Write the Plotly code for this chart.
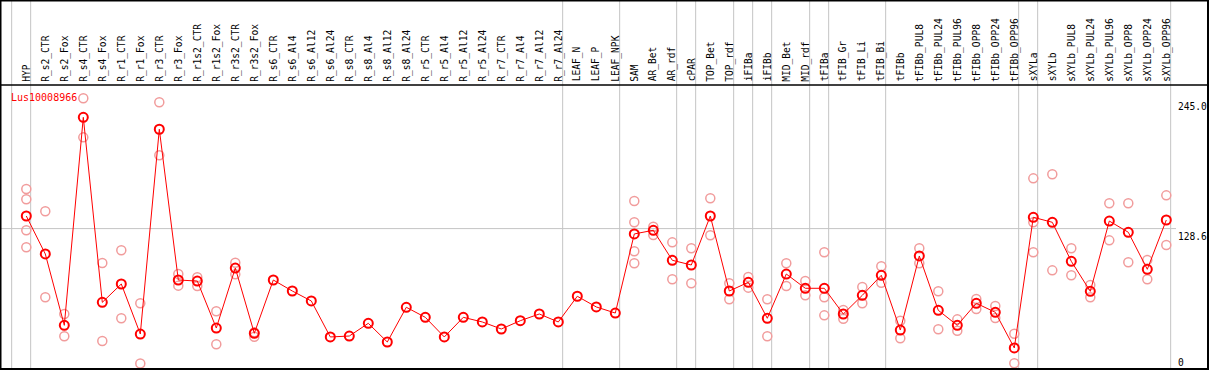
import plotly.graph_objects as go

title = "Lus10008966"

labels = ["HYP", "R_s2_CTR", "R_s2_Fox", "R_s4_CTR", "R_s4_Fox", "R_r1_CTR", "R_r1_Fox",
          "R_r3_CTR", "R_r3_Fox", "R_r1s2_CTR", "R_r1s2_Fox", "R_r3s2_CTR", "R_r3s2_Fox",
          "R_s6_CTR", "R_s6_Al4", "R_s6_Al12", "R_s6_Al24", "R_s8_CTR", "R_s8_Al4",
          "R_s8_Al12", "R_s8_Al24", "R_r5_CTR", "R_r5_Al4", "R_r5_Al12", "R_r5_Al24",
          "R_r7_CTR", "R_r7_Al4", "R_r7_Al12", "R_r7_Al24", "LEAF_N", "LEAF_P", "LEAF_NPK",
          "SAM", "AR_Bet", "AR_rdf", "cPAR", "TOP_Bet", "TOP_rdf", "iFIBa", "iFIBb",
          "MID_Bet", "MID_rdf", "tFIBa", "tFIB_Gr", "tFIB_Li", "tFIB_Bi", "tFIBb",
          "tFIBb_PUL8", "tFIBb_PUL24", "tFIBb_PUL96", "tFIBb_OPP8", "tFIBb_OPP24", "tFIBb_OPP96",
          "sXYLa", "sXYLb", "sXYLb_PUL8", "sXYLb_PUL24", "sXYLb_PUL96", "sXYLb_OPP8",
          "sXYLb_OPP24", "sXYLb_OPP96"]

means = [140.6, 104.4, 36.4, 234.7, 58.3, 75.8, 28.1, 223.3, 79.6, 78.6, 33.8, 91.0, 28.8,
         79.6, 69.1, 59.6, 25.3, 26.2, 38.3, 20.5, 53.6, 44.0, 25.3, 44.0, 39.6,
         32.9, 40.8, 47.2, 39.6, 64.1, 53.9, 48.1,
         123.5, 127.0, 98.4, 93.9, 140.6, 69.1, 77.4, 43.1, 85.3, 71.7, 71.7, 47.2, 65.0, 84.1,
         31.9, 102.5, 50.7, 36.4, 57.4, 48.8, 14.8,
         139.4, 134.6, 97.4, 68.8, 135.8, 125.1, 89.8, 136.8]

replicates = [
    [166.3, 156.5, 127.0, 110.8], [145.1, 63.1], [47.2, 25.9], [252.8, 215.6], [95.8, 21.4],
    [107.9, 43.1], [57.4, 0.0], [249.0, 198.5], [85.3, 74.2], [82.2, 73.9], [49.8, 18.3],
    [96.1, 85.0], [29.7, 25.5],
    [], [], [], [], [], [], [], [], [], [], [], [], [], [], [], [], [], [], [],
    [154.9, 134.6, 107.0, 95.5], [130.4, 122.5], [115.5, 80.3], [109.8, 76.5], [157.5, 122.2],
    [76.5, 61.2], [82.5, 72.3], [61.2, 25.9], [95.5, 73.9], [78.6, 65.0], [106.0, 63.1, 45.9],
    [51.0, 42.7], [72.9, 57.4], [92.7, 77.0],
    [40.8, 24.0], [109.8, 95.5], [68.8, 32.6], [42.1, 31.3], [61.5, 52.0], [54.8, 43.4], [28.4, 0.2],
    [176.5, 134.6, 106.0], [180.4, 88.8], [109.8, 84.1], [74.8, 63.1], [152.7, 117.4],
    [152.7, 96.5], [98.7, 80.3], [160.3, 113.0],
]

# group separators drawn just after these columns (-1 = left of first column)
group_ends = [-1, 0, 28, 31, 34, 35, 37, 38, 39, 41, 42, 45, 52, 53, 60]

axis_ticks = [245.0, 128.6, 0]
axis_text = ["245.0", "128.6", "0"]

W, H = 1209, 370
x0px, dxpx = 26.3, 19.0
y0px, dypx = 363.5, 1.049

xs = list(range(len(labels)))
rx = [i for i, r in enumerate(replicates) for _ in r]
ry = [v for r in replicates for v in r]

fig = go.Figure()
fig.add_trace(go.Scatter(
    x=rx, y=ry, mode="markers",
    marker=dict(symbol="circle-open", size=9, color="#f19c9c", line=dict(width=1.5, color="#f19c9c")),
    hoverinfo="skip", showlegend=False))
fig.add_trace(go.Scatter(
    x=xs, y=means, mode="lines+markers",
    line=dict(color="#ff0000", width=1),
    marker=dict(symbol="circle-open", size=9, color="#ff0000", line=dict(width=2, color="#ff0000")),
    showlegend=False))

shapes = []
for g in group_ends:
    shapes.append(dict(type="line", xref="x", yref="paper", x0=g + 0.23, x1=g + 0.23, y0=0, y1=1,
                       line=dict(color="#c4c4c4", width=1), layer="below"))
shapes.append(dict(type="line", xref="paper", yref="y", x0=0, x1=1176 / W, y0=axis_ticks[1], y1=axis_ticks[1],
                   line=dict(color="#c4c4c4", width=1), layer="below"))
shapes.append(dict(type="line", xref="paper", yref="paper", x0=0, x1=1, y0=1 - 85 / H, y1=1 - 85 / H,
                   line=dict(color="black", width=1.5)))
shapes.append(dict(type="rect", xref="paper", yref="paper", x0=0.5 / W, x1=1 - 1 / W, y0=1 / H, y1=1 - 0.5 / H,
                   line=dict(color="black", width=2)))

ann = []
for i, lab in enumerate(labels):
    ann.append(dict(x=i, y=1 - 83.5 / H, xref="x", yref="paper", text=lab, showarrow=False,
                    textangle=-90, xanchor="center", yanchor="bottom",
                    font=dict(family="DejaVu Sans Mono", size=9.6, color="black")))
ann.append(dict(x=9 / W, y=1 - 97.5 / H, xref="paper", yref="paper", text=title, showarrow=False,
                xanchor="left", yanchor="middle",
                font=dict(family="DejaVu Sans Mono", size=10, color="#ff0000")))
anchors = ["middle", "top", "middle"]
shifts = [0, 0, 1.5]
for v, t, a, s in zip(axis_ticks, axis_text, anchors, shifts):
    ann.append(dict(x=1176 / W, y=v, xref="paper", yref="y", text=t, showarrow=False,
                    xanchor="left", yanchor=a, yshift=s,
                    font=dict(family="DejaVu Sans Mono", size=9.6, color="black")))

fig.update_layout(
    width=W, height=H, autosize=False,
    margin=dict(l=0, r=0, t=0, b=0),
    paper_bgcolor="white", plot_bgcolor="white",
    xaxis=dict(range=[-x0px / dxpx, (W - x0px) / dxpx], visible=False, fixedrange=True),
    yaxis=dict(range=[(y0px - H) / dypx, y0px / dypx], visible=False, fixedrange=True),
    shapes=shapes, annotations=ann,
)

fig.write_html("out.html", config={"displayModeBar": False},
               post_script="document.body.style.margin='0';document.body.style.overflow='hidden';")
